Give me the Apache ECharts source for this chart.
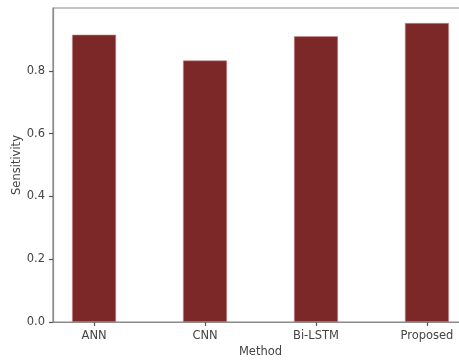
<!DOCTYPE html>
<html>
<head>
<meta charset="utf-8">
<script src="https://cdn.jsdelivr.net/npm/echarts@6/dist/echarts.min.js"></script>
<style>html,body{margin:0;padding:0;background:#fff}#c{width:459px;height:360px}</style>
</head>
<body>
<div id="c"></div>
<script>
var categories = ["ANN", "CNN", "Bi-LSTM", "Proposed"];
var sensitivity = [0.915, 0.833, 0.91, 0.952];
var yTicks = [0.0, 0.2, 0.4, 0.6, 0.8];

var chart = echarts.init(document.getElementById('c'), null, {renderer: 'canvas'});
var data = sensitivity.map(function (v, i) { return [i, v]; });
var xTicks = categories.map(function (c, i) { return i; });
var axisColor = '#8a8a8a';
var textColor = '#444';
var font = 'DejaVu Sans';
chart.setOption({
  animation: false,
  grid: {left: 53, top: 8, width: 415, height: 314, show: true, borderColor: axisColor, borderWidth: 1.2,
    containLabel: false, outerBoundsMode: 'none'},
  xAxis: {
    type: 'value', min: -0.37, max: 3.37,
    name: 'Method', nameLocation: 'middle', nameGap: 24, nameMoveOverlap: false,
    nameTextStyle: {color: textColor, fontSize: 11.5, fontFamily: font},
    axisLine: {show: true, onZero: false, lineStyle: {color: axisColor, width: 1.2}},
    axisTick: {show: true, inside: false, length: 4, lineStyle: {color: '#555', width: 1.2}, customValues: xTicks},
    axisLabel: {color: textColor, fontSize: 11.5, fontFamily: font, margin: 8,
      customValues: xTicks,
      formatter: function (v) { return categories[Math.round(v)] || ''; }},
    splitLine: {show: false}
  },
  yAxis: {
    type: 'value', min: 0, max: 1.0, interval: 0.2,
    name: 'Sensitivity', nameLocation: 'middle', nameGap: 30, nameMoveOverlap: false,
    nameTextStyle: {color: textColor, fontSize: 11.5, fontFamily: font},
    axisLine: {show: true, onZero: false, lineStyle: {color: axisColor, width: 1.2}},
    axisTick: {show: true, inside: false, length: 4, lineStyle: {color: '#555', width: 1.2}, customValues: yTicks},
    axisLabel: {color: textColor, fontSize: 11.5, fontFamily: font, margin: 8,
      customValues: yTicks,
      formatter: function (v) { return v.toFixed(1); }},
    splitLine: {show: false}
  },
  series: [{
    type: 'bar',
    data: data,
    barWidth: 44,
    itemStyle: {color: '#7c2829', borderColor: '#c98a8b', borderWidth: 0.6}
  }]
});
</script>
</body>
</html>
